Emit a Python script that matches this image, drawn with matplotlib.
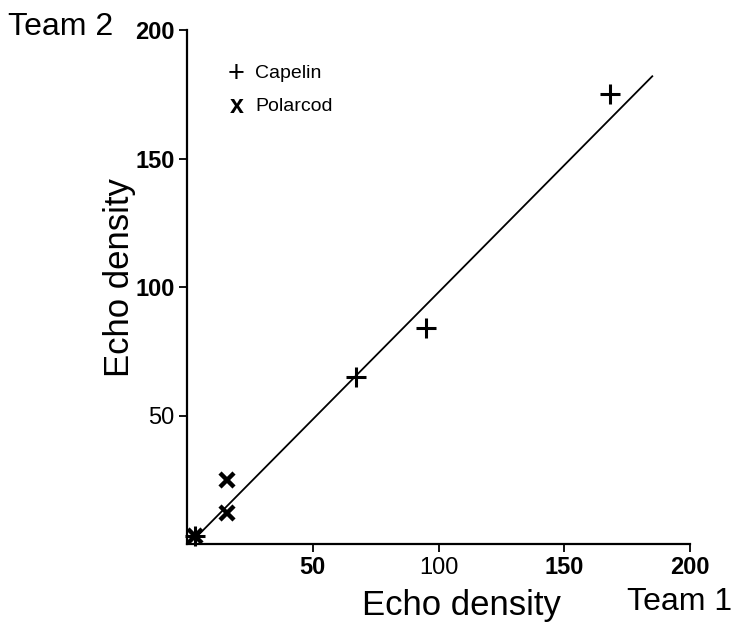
import matplotlib
matplotlib.use("Agg")
import matplotlib.pyplot as plt

# ----------------------------------------
# DATA
# ----------------------------------------
capelin_team1 = [3, 67, 95, 168]
capelin_team2 = [3, 65, 84, 175]

polarcod_team1 = [3, 16, 16]
polarcod_team2 = [3, 12, 25]

# 1:1-ish fitted line, end points
line_team1 = [3, 185]
line_team2 = [2, 182]

x_ticks = [50, 100, 150, 200]
y_ticks = [50, 100, 150, 200]
# the scan makes some tick labels look bold and some not
x_tick_weights = ["bold", "normal", "bold", "bold"]
y_tick_weights = ["normal", "bold", "bold", "bold"]

# ----------------------------------------
# PLOT
# ----------------------------------------
plt.rcParams["font.family"] = ["Liberation Sans", "DejaVu Sans"]

W, H = 745, 641
fig = plt.figure(figsize=(W / 100, H / 100), dpi=100)
ax = fig.add_axes([187 / W, 1 - 544 / H, 503 / W, 514 / H])

ax.plot(line_team1, line_team2, color="black", lw=1.3)
ax.plot(capelin_team1, capelin_team2, ls="none", marker="+",
        ms=15, mew=2.2, color="black", clip_on=False)
ax.plot(polarcod_team1, polarcod_team2, ls="none", marker="x",
        ms=10, mew=3.2, color="black", clip_on=False)

ax.set_xlim(0, 200)
ax.set_ylim(0, 200)

for side in ["top", "right"]:
    ax.spines[side].set_visible(False)
for side in ["left", "bottom"]:
    ax.spines[side].set_linewidth(1.6)

ax.set_xticks(x_ticks)
ax.set_yticks(y_ticks)
ax.set_xticklabels([str(v) for v in x_ticks], fontsize=17)
ax.set_yticklabels([str(v) for v in y_ticks], fontsize=17)
for lab, w in zip(ax.get_xticklabels(), x_tick_weights):
    lab.set_fontweight(w)
for lab, w in zip(ax.get_yticklabels(), y_tick_weights):
    lab.set_fontweight(w)
ax.tick_params(direction="out", length=6, width=1.3, pad=3)

# axis titles
ax.text(461 / W, 1 - 605 / H, "Echo density", transform=fig.transFigure,
        ha="center", va="center", fontsize=25)
ax.text(119 / W, 1 - 278 / H, "Echo density", transform=fig.transFigure,
        ha="center", va="center", rotation=90, fontsize=25)
fig.text(627 / W, 1 - 602 / H, "Team 1", ha="left", va="center", fontsize=23)
fig.text(8 / W, 1 - 27 / H, "Team 2", ha="left", va="center", fontsize=23)

# legend drawn as text lines
ax.text(0.08, 0.915, "+", transform=ax.transAxes, ha="left", va="center",
        fontsize=21)
ax.text(0.135, 0.915, "Capelin", transform=ax.transAxes, ha="left",
        va="center", fontsize=14)
ax.text(0.085, 0.852, "x", transform=ax.transAxes, ha="left", va="center",
        fontsize=18, fontweight="bold")
ax.text(0.135, 0.852, "Polarcod", transform=ax.transAxes, ha="left",
        va="center", fontsize=14)

fig.savefig("out.png", dpi=100)
